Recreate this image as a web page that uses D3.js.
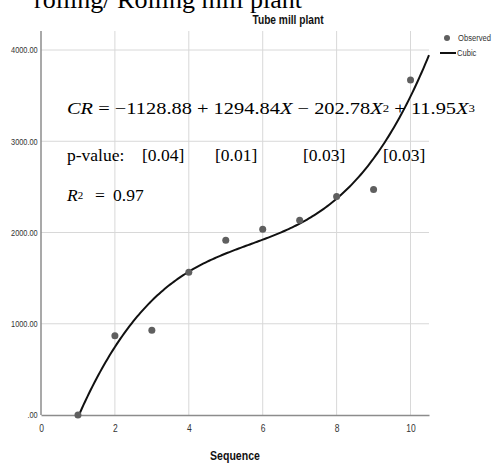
<!DOCTYPE html>
<html><head><meta charset="utf-8">
<script src="https://cdn.jsdelivr.net/npm/d3@7"></script>
<style>body{margin:0;background:#fff;} svg{display:block;}</style>
</head><body>
<script>
const sequence = [1, 2, 3, 4, 5, 6, 7, 8, 9, 10];
const observed = [0, 868, 930, 1565, 1915, 2035, 2135, 2395, 2470, 3670];
const cubicCoefficients = [-1128.88, 1294.84, -202.78, 11.95];
const cubicRange = [1, 10.5];
const xTicks = [0, 2, 4, 6, 8, 10];
const yTicks = [0, 1000, 2000, 3000, 4000];
const pValues = ["[0.04]", "[0.01]", "[0.03]", "[0.03]"];
const rSquared = "0.97";

const W = 494, H = 466;
const svg = d3.select("body").append("svg").attr("width", W).attr("height", H);
const x = d3.scaleLinear().domain([0, 10.5]).range([41, 429]);
const y = d3.scaleLinear().domain([0, 4000]).range([415, 50]);
const yTop = 31;
const sans = "'Liberation Sans',Arial,sans-serif";
const serif = "'Liberation Serif','Times New Roman',serif";

function narrowText(parent, tx, ty, str, size, opts = {}) {
  const t = parent.append("text")
    .attr("transform", `translate(${tx},${ty}) scale(${opts.sx || 0.82},1)`)
    .attr("font-family", sans).attr("font-size", size)
    .attr("fill", opts.fill || "#333").text(str);
  if (opts.bold) t.attr("font-weight", "bold");
  if (opts.anchor) t.attr("text-anchor", opts.anchor);
  return t;
}

// top clipped text (cut off at the top edge, as in the reference)
svg.append("text").attr("x", 34).attr("y", 8).attr("font-family", serif)
  .attr("font-size", 26).attr("fill", "#000").text("rolling/ Rolling mill plant");

narrowText(svg, 288, 24, "Tube mill plant", 12, {bold: true, anchor: "middle", fill: "#111", sx: 0.85});

// grid
const g = svg.append("g");
g.selectAll(".vg").data(xTicks.filter(d => d > 0)).join("line")
  .attr("x1", d => x(d)).attr("x2", d => x(d)).attr("y1", yTop).attr("y2", y(0))
  .attr("stroke", "#d8d8d8").attr("stroke-width", 1);
g.selectAll(".hg").data(yTicks.filter(d => d > 0)).join("line")
  .attr("x1", x(0)).attr("x2", x(10.5)).attr("y1", d => y(d)).attr("y2", d => y(d))
  .attr("stroke", "#d8d8d8").attr("stroke-width", 1);

// axes
const xAxis = svg.append("g").attr("transform", `translate(0,${y(0)})`)
  .call(d3.axisBottom(x).tickValues(xTicks).tickSize(0).tickPadding(10).tickFormat(d3.format("d")));
xAxis.select(".domain").attr("stroke", "#8c8c8c").attr("stroke-width", 1.5);
xAxis.selectAll("text").attr("font-family", sans).attr("font-size", 10).attr("fill", "#333")
  .attr("transform", "scale(0.85,1)").attr("x", 0);

const yAxis = svg.append("g").attr("transform", `translate(${x(0)},0)`)
  .call(d3.axisLeft(y).tickValues(yTicks).tickSize(0).tickPadding(4).tickFormat(d => d === 0 ? ".00" : d3.format(".2f")(d)));
yAxis.select(".domain").attr("d", `M0,${yTop}V${y(0)}`).attr("stroke", "#8c8c8c").attr("stroke-width", 1.5);
yAxis.selectAll("text").attr("font-family", sans).attr("font-size", 9).attr("fill", "#333")
  .attr("transform", "scale(0.82,1)");

narrowText(svg, 235, 460, "Sequence", 12, {bold: true, anchor: "middle", fill: "#111", sx: 0.88});

// cubic curve from the fitted coefficients shown in the chart
const cubic = v => cubicCoefficients.reduce((s, c, i) => s + c * Math.pow(v, i), 0);
const curvePts = d3.range(cubicRange[0], cubicRange[1] + 0.001, 0.05).map(v => [v, Math.max(0, cubic(v))]);
svg.append("path").datum(curvePts)
  .attr("d", d3.line().x(d => x(d[0])).y(d => y(d[1])))
  .attr("fill", "none").attr("stroke", "#111").attr("stroke-width", 2);

// points
svg.selectAll(".pt").data(sequence.map((s, i) => [s, observed[i]])).join("circle")
  .attr("cx", d => x(d[0])).attr("cy", d => y(d[1])).attr("r", 3.5).attr("fill", "#5f5f5f");

// legend
svg.append("circle").attr("cx", 447).attr("cy", 38).attr("r", 3).attr("fill", "#5f5f5f");
narrowText(svg, 458, 41, "Observed", 9.5, {sx: 0.8});
svg.append("line").attr("x1", 440).attr("x2", 456).attr("y1", 53).attr("y2", 53).attr("stroke", "#111").attr("stroke-width", 2);
narrowText(svg, 457, 56, "Cubic", 9.5, {sx: 0.8});

// equation annotations
const fs = 17.5;
const eq = svg.append("text").attr("x", 67).attr("y", 114).attr("font-family", serif).attr("font-size", fs)
  .attr("fill", "#000").attr("textLength", 408).attr("lengthAdjust", "spacingAndGlyphs");
const parts = [
  ["CR", true, false], [" = −1128.88 + 1294.84", false, false], ["X", true, false], [" − 202.78", false, false],
  ["X", true, false], ["2", false, true], [" + 11.95", false, false], ["X", true, false], ["3", false, true]
];
parts.forEach((p, i) => {
  const prev = i > 0 ? parts[i - 1][2] : false;
  const t = eq.append("tspan").text(p[0]);
  if (p[1]) t.attr("font-style", "italic");
  if (p[2]) t.attr("font-size", 11);
  t.attr("dy", p[2] && !prev ? -2.5 : (!p[2] && prev ? 2.5 : 0));
});

const pv = svg.append("g").attr("font-family", serif).attr("font-size", fs).attr("fill", "#000");
pv.append("text").attr("x", 67).attr("y", 161).text("p-value:");
const pvX = [142, 215, 303, 383];
pValues.forEach((p, i) => pv.append("text").attr("x", pvX[i]).attr("y", 161).text(p));

const r2 = svg.append("text").attr("x", 67).attr("y", 201).attr("font-family", serif).attr("font-size", fs).attr("fill", "#000");
r2.append("tspan").attr("font-style", "italic").text("R");
r2.append("tspan").attr("font-size", 11).attr("dy", -2.5).text("2");
r2.append("tspan").attr("x", 95).attr("dy", 2.5).text("=");
r2.append("tspan").attr("x", 113).text(rSquared);
</script>
</body></html>
